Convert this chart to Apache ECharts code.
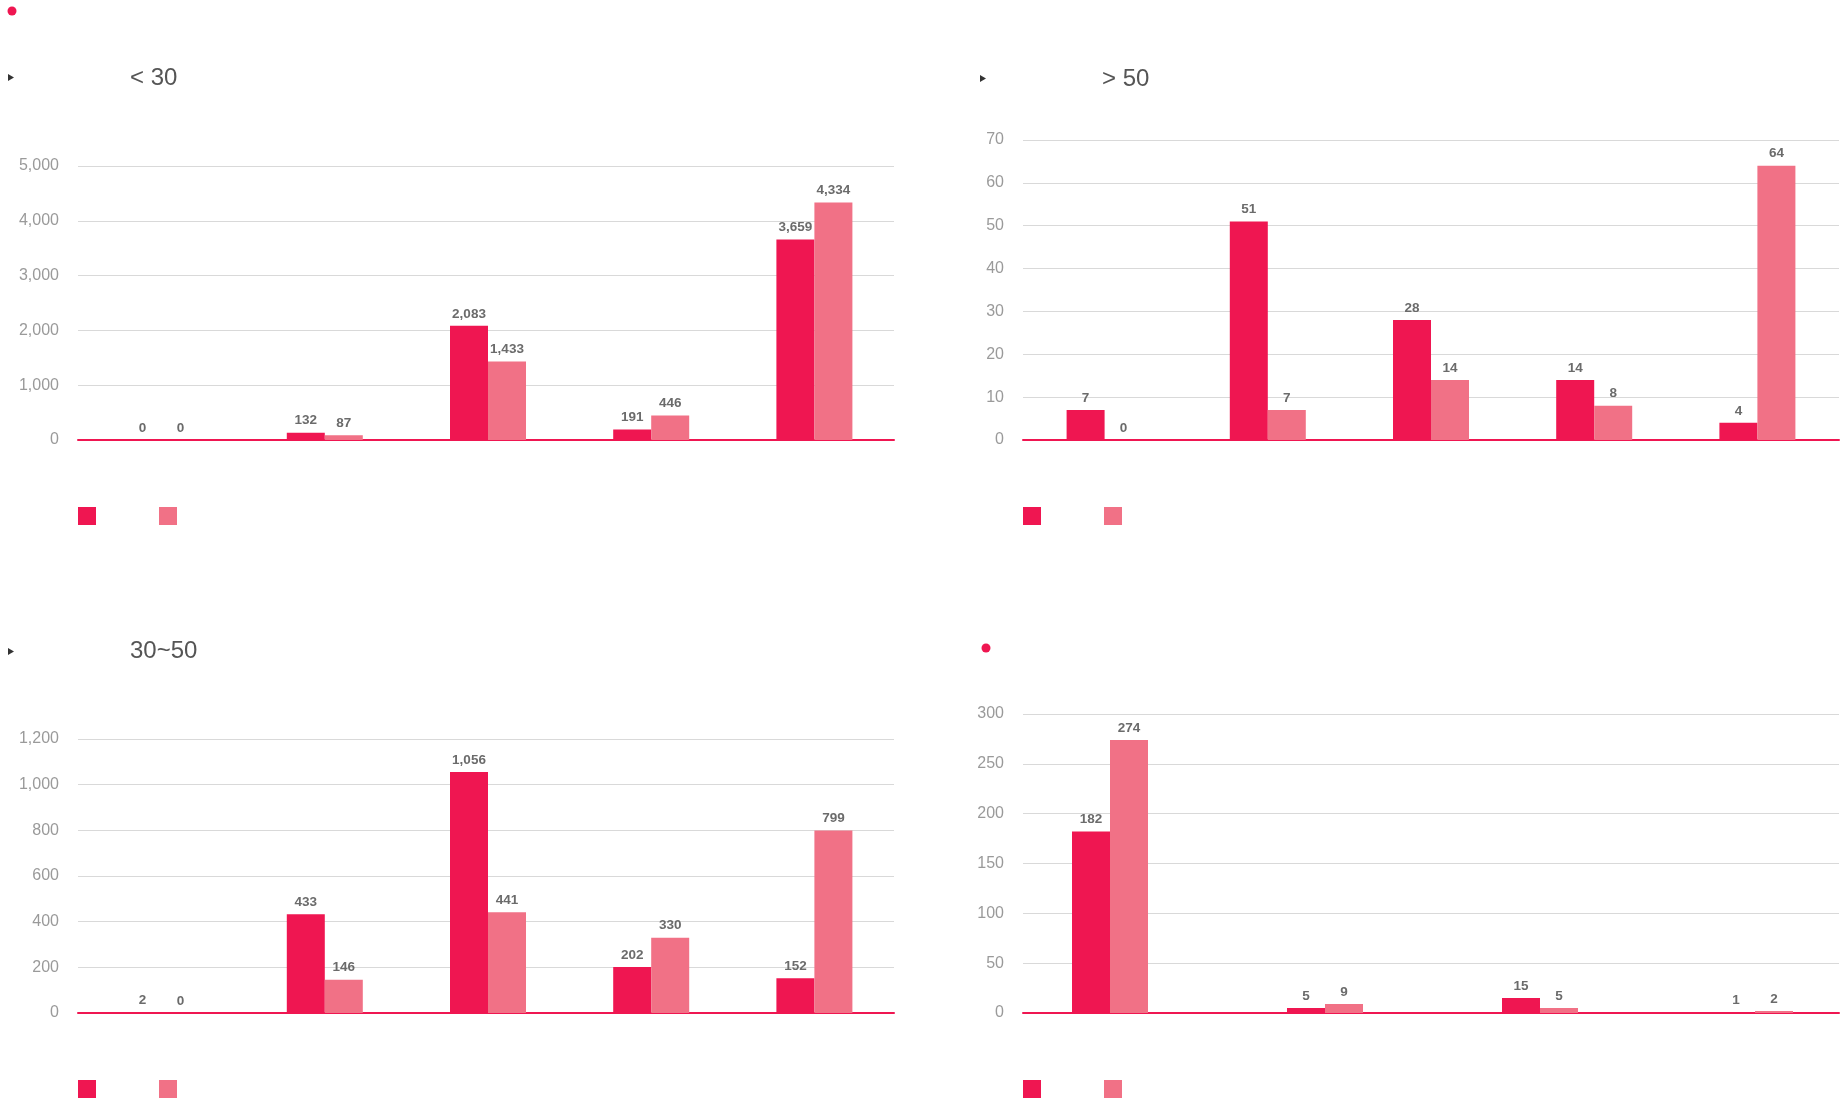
<!DOCTYPE html>
<html>
<head>
<meta charset="utf-8">
<title>Age groups</title>
<script src="https://cdn.jsdelivr.net/npm/echarts@6/dist/echarts.min.js"></script>
<style>
  html, body { margin: 0; padding: 0; background: #fff; }
  #chart { width: 1841px; height: 1100px; }
</style>
</head>
<body>
<div id="chart"></div>
<script>
// panel titles
const titles = ['< 30', '> 50', '30~50', '']

// categories (x labels are not shown in the picture)
const catsFive = ['1', '2', '3', '4', '5']
const catsFour = ['1', '2', '3', '4']

// values
const under30A = [0, 132, 2083, 191, 3659]
const under30B = [0, 87, 1433, 446, 4334]
const over50A = [7, 51, 28, 14, 4]
const over50B = [0, 7, 14, 8, 64]
const mid30A = [2, 433, 1056, 202, 152]
const mid30B = [0, 146, 441, 330, 799]
const otherA = [182, 5, 15, 1]
const otherB = [274, 9, 5, 2]

// y axis ranges
const yMax = [5000, 70, 1200, 300]
const yStep = [1000, 10, 200, 50]

const dark = '#ef1651'
const light = '#f17186'
const font = '"Liberation Sans", Arial, sans-serif'

// frame = gridlines / axis area; bars = [left, width, onBand] of the bar grid
const panels = [
  { frame: [78, 166, 816, 274], bars: [80, 816, true], cats: catsFive, a: under30A, b: under30B, title: [130, 66], legend: [78, 507] },
  { frame: [1023, 140, 816, 300], bars: [1023, 816, true], cats: catsFive, a: over50A, b: over50B, title: [1102, 67], legend: [1023, 507] },
  { frame: [78, 739, 816, 274], bars: [80, 816, true], cats: catsFive, a: mid30A, b: mid30B, title: [130, 639], legend: [78, 1080] },
  { frame: [1023, 714, 816, 299], bars: [1110, 645, false], cats: catsFour, a: otherA, b: otherB, title: [1102, 639], legend: [1023, 1080] }
]

const fmt = v => Number(v).toLocaleString('en-US')

const labelStyle = {
  show: true,
  position: 'top',
  distance: 5,
  fontFamily: font,
  fontSize: 13.5,
  fontWeight: 'bold',
  color: '#6b6b6b',
  formatter: p => fmt(p.value)
}

const grids = []
const xAxes = []
const yAxes = []
const series = []

panels.forEach((p, i) => {
  const [l, t, w, h] = p.frame
  // frame grid: gridlines, y labels and the zero line
  grids.push({ left: l, top: t, width: w, height: h })
  xAxes.push({
    type: 'category', gridIndex: 2 * i, data: p.cats,
    axisLine: { lineStyle: { color: dark, width: 2 } },
    axisTick: { show: false }, axisLabel: { show: false }
  })
  yAxes.push({
    type: 'value', gridIndex: 2 * i, min: 0, max: yMax[i], interval: yStep[i],
    axisLine: { show: false }, axisTick: { show: false },
    axisLabel: { margin: 19, fontFamily: font, fontSize: 16, color: '#9a9a9a', formatter: v => fmt(v) },
    splitLine: { lineStyle: { color: '#d9d9d9', width: 1 } }
  })
  // bar grid: same height and scale, bands placed as in the picture
  grids.push({ left: p.bars[0], width: p.bars[1], top: t, height: h })
  xAxes.push({ type: 'category', gridIndex: 2 * i + 1, data: p.cats, boundaryGap: p.bars[2], show: false })
  yAxes.push({ type: 'value', gridIndex: 2 * i + 1, min: 0, max: yMax[i], interval: yStep[i], show: false, splitLine: { show: false } })
  series.push(
    { name: `${i}-a`, type: 'bar', xAxisIndex: 2 * i + 1, yAxisIndex: 2 * i + 1, data: p.a, barWidth: 38, barGap: '0%', clip: false, itemStyle: { color: dark }, label: labelStyle, z: 3 },
    { name: `${i}-b`, type: 'bar', xAxisIndex: 2 * i + 1, yAxisIndex: 2 * i + 1, data: p.b, barWidth: 38, barGap: '0%', clip: false, itemStyle: { color: light }, label: labelStyle, z: 3 }
  )
})

const option = {
  backgroundColor: '#fff',
  animation: false,
  title: panels.map((p, i) => ({
    text: titles[i],
    left: p.title[0],
    top: p.title[1],
    padding: 0,
    textStyle: { fontFamily: font, fontSize: 24, fontWeight: 'normal', color: '#555' }
  })),
  legend: panels.map((p, i) => ({
    left: p.legend[0],
    top: p.legend[1],
    padding: 0,
    icon: 'rect',
    itemWidth: 18,
    itemHeight: 18,
    itemGap: 63,
    formatter: () => '',
    data: [`${i}-a`, `${i}-b`]
  })),
  grid: grids,
  xAxis: xAxes,
  yAxis: yAxes,
  series: series,
  graphic: [
    { type: 'circle', shape: { cx: 12, cy: 11, r: 4.5 }, style: { fill: dark } },
    { type: 'circle', shape: { cx: 986, cy: 648, r: 4.5 }, style: { fill: dark } },
    { type: 'polygon', shape: { points: [[8, 74], [14, 77.5], [8, 81]] }, style: { fill: '#333' } },
    { type: 'polygon', shape: { points: [[980, 75], [986, 78.5], [980, 82]] }, style: { fill: '#333' } },
    { type: 'polygon', shape: { points: [[8, 648], [14, 651.5], [8, 655]] }, style: { fill: '#333' } }
  ]
}

const chartInstance = echarts.init(document.getElementById('chart'))
chartInstance.setOption(option)
</script>
</body>
</html>
